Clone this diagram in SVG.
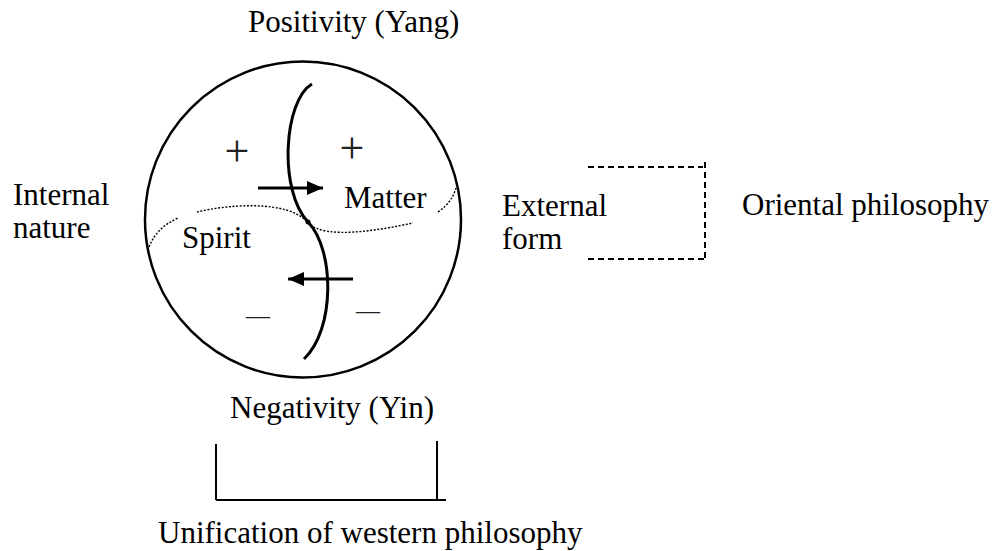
<svg xmlns="http://www.w3.org/2000/svg" width="1005" height="551" viewBox="0 0 1005 551">
<style>
.t{font-family:"Liberation Serif","Times New Roman",serif;font-size:31px;fill:#000}
.s{font-family:"Liberation Serif","Times New Roman",serif;fill:#222;text-anchor:middle}
.thick{fill:none;stroke:#000;stroke-width:3}
.dot{fill:none;stroke:#000;stroke-width:1.4;stroke-dasharray:2 1.6}
.dash{fill:none;stroke:#000;stroke-width:2;stroke-dasharray:6 4}
.line{fill:none;stroke:#000;stroke-width:2}
</style>
<defs>
<marker id="ah" viewBox="0 0 16 14" refX="16" refY="7" markerWidth="16" markerHeight="14" markerUnits="userSpaceOnUse" orient="auto">
<path d="M0,0 L16,7 L0,14 Z" fill="#000"/>
</marker>
</defs>
<rect width="1005" height="551" fill="#fff"/>
<g id="sphere">
<circle cx="303" cy="219.5" r="158" fill="none" stroke="#000" stroke-width="2.5"/>
<path class="thick" d="M312,84 C284,100 278,190 308,222 C335,250 335,330 304,359"/>
<circle cx="308" cy="222" r="2.5" fill="#000"/>
<path class="dot" d="M149,247 C155,232 165,224 178,218"/>
<path class="dot" d="M197,212 C230,204 290,200 308,223 C325,240 380,230 413,223"/>
<path class="dot" d="M438,212 C448,205 453,198 456,188"/>
<text class="s" x="237" y="166" font-size="44">+</text>
<text class="s" x="352" y="163" font-size="44">+</text>
<text class="s" x="258" y="323" font-size="24">—</text>
<text class="s" x="368" y="318" font-size="24">—</text>
<text class="t" x="344" y="208">Matter</text>
<text class="t" x="182" y="248">Spirit</text>
</g>
<g id="connectors">
<line class="thick" x1="258" y1="188" x2="323" y2="188" marker-end="url(#ah)"/>
<line class="thick" x1="353" y1="279" x2="288" y2="279" marker-end="url(#ah)"/>
<path class="dash" d="M588,167 H703 M705,162 V262 M588,259 H707"/>
<path class="line" d="M216,444 V500 M437,441 V500 M216,500 H446"/>
</g>
<g id="label-positivity"><text class="t" x="248" y="32">Positivity (Yang)</text></g>
<g id="label-negativity"><text class="t" x="230" y="418">Negativity (Yin)</text></g>
<g id="label-internal"><text class="t" x="13" y="205">Internal</text><text class="t" x="13" y="238">nature</text></g>
<g id="label-external"><text class="t" x="502" y="216">External</text><text class="t" x="502" y="249">form</text></g>
<g id="label-oriental"><text class="t" x="742" y="215">Oriental philosophy</text></g>
<g id="label-unification"><text class="t" x="158" y="543">Unification of western philosophy</text></g>
</svg>
